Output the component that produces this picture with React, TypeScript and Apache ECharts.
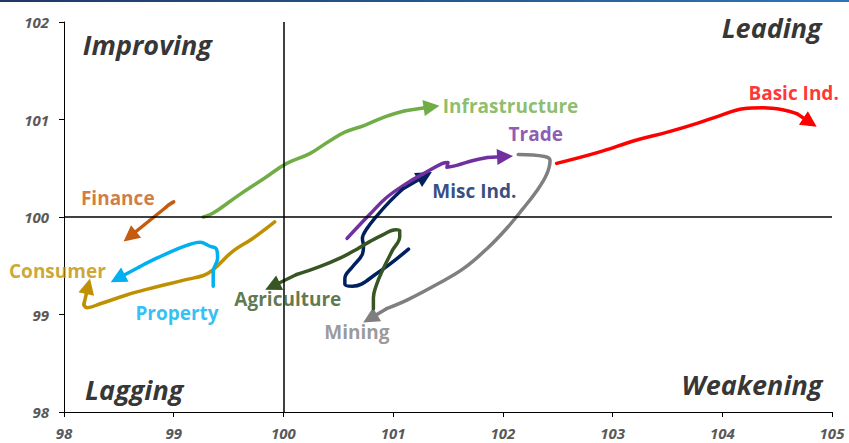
import React, { useEffect, useRef } from "react";
import * as echarts from "echarts";

// Axis ranges / ticks
const xRange = [98, 105];
const yRange = [98, 102];
const tickStep = 1;

// Sector paths ([RS-Ratio, RS-Momentum]); last point is the arrow tip
const infrastructure = [
  [99.27, 100.0], [99.36, 100.04], [99.6, 100.23], [99.83, 100.4], [100.03, 100.55],
  [100.24, 100.65], [100.42, 100.78], [100.56, 100.87], [100.74, 100.94],
  [100.93, 101.03], [101.11, 101.09], [101.35, 101.13],
];
const basicInd = [
  [102.49, 100.55], [102.86, 100.66], [103.22, 100.79], [103.5, 100.87], [103.77, 100.96],
  [103.98, 101.04], [104.19, 101.11], [104.37, 101.12], [104.55, 101.1], [104.68, 101.06],
  [104.8, 100.97],
];
const trade = [
  [100.58, 99.78], [100.67, 99.89], [100.79, 100.03], [100.94, 100.2], [101.13, 100.35],
  [101.27, 100.44], [101.45, 100.55], [101.5, 100.56], [101.49, 100.51], [101.58, 100.53],
  [101.73, 100.58], [101.86, 100.61], [102.02, 100.62],
];
const miscInd = [
  [101.14, 99.67], [100.85, 99.42], [100.63, 99.29], [100.56, 99.31], [100.56, 99.37],
  [100.63, 99.49], [100.72, 99.62], [100.73, 99.7], [100.72, 99.78], [100.76, 99.88],
  [100.85, 100.01], [100.97, 100.16], [101.09, 100.29], [101.29, 100.42],
];
const agriculture = [
  [100.82, 99.06], [100.82, 99.17], [100.85, 99.31], [100.91, 99.47], [100.99, 99.65],
  [101.06, 99.8], [101.06, 99.86], [101.02, 99.87], [100.91, 99.82], [100.79, 99.75],
  [100.67, 99.67], [100.52, 99.58], [100.33, 99.49], [100.12, 99.41], [99.9, 99.29],
];
const mining = [
  [102.14, 100.64], [102.38, 100.62], [102.43, 100.58], [102.4, 100.44], [102.31, 100.27],
  [102.18, 100.08], [102.04, 99.89], [101.86, 99.68], [101.64, 99.47], [101.4, 99.31],
  [101.13, 99.15], [100.94, 99.06], [100.79, 98.96],
];
const finance = [
  [99.0, 100.155], [98.95, 100.12], [98.93, 100.1], [98.6, 99.8],
];
const consumer = [
  [99.92, 99.95], [99.72, 99.78], [99.54, 99.65], [99.36, 99.46], [99.27, 99.4],
  [99.12, 99.36], [98.94, 99.31], [98.76, 99.26], [98.57, 99.2], [98.33, 99.11],
  [98.21, 99.07], [98.18, 99.1], [98.22, 99.29],
];
const property = [
  [99.36, 99.29], [99.36, 99.44], [99.4, 99.58], [99.39, 99.67], [99.33, 99.7],
  [99.24, 99.74], [99.15, 99.72], [99.03, 99.67], [98.85, 99.58], [98.69, 99.49],
  [98.49, 99.37],
];

// Label anchors (data units)
const sectorLabels = [
  { name: "Infrastructure", at: [102.07, 101.14] },
  { name: "Trade", at: [102.3, 100.85] },
  { name: "Misc Ind.", at: [101.74, 100.27] },
  { name: "Basic Ind.", at: [104.65, 101.27] },
  { name: "Finance", at: [98.49, 100.2] },
  { name: "Consumer", at: [97.94, 99.45] },
  { name: "Property", at: [99.03, 99.02] },
  { name: "Agriculture", at: [100.04, 99.16] },
  { name: "Mining", at: [100.67, 98.82] },
];
const quadrantLabels = [
  { name: "Improving", at: [98.76, 101.77] },
  { name: "Leading", at: [104.45, 101.94] },
  { name: "Lagging", at: [98.64, 98.23] },
  { name: "Weakening", at: [104.27, 98.28] },
];

const colors: Record<string, string> = {
  Infrastructure: "#70AD47",
  Trade: "#7030A0",
  "Misc Ind.": "#002060",
  "Basic Ind.": "#FF0000",
  Finance: "#C55A11",
  Consumer: "#BF9000",
  Property: "#00B0F0",
  Agriculture: "#375623",
  Mining: "#7F7F7F",
};

const paths: [string, number[][]][] = [
  ["Infrastructure", infrastructure],
  ["Basic Ind.", basicInd],
  ["Trade", trade],
  ["Misc Ind.", miscInd],
  ["Agriculture", agriculture],
  ["Mining", mining],
  ["Finance", finance],
  ["Consumer", consumer],
  ["Property", property],
];

const FONT = "'Open Sans', sans-serif";

export default function App() {
  const ref = useRef<HTMLDivElement>(null);
  useEffect(() => {
    if (!ref.current) return;
    const chart = echarts.init(ref.current, undefined, { renderer: "svg" });
    const series: any[] = [];
    series.push({
      type: "line",
      data: [],
      z: 1,
      silent: true,
      markLine: {
        silent: true,
        symbol: ["none", "none"],
        label: { show: false },
        lineStyle: { color: "#000", width: 1.5, type: "solid" },
        data: [
          [{ coord: [100, yRange[0]] }, { coord: [100, yRange[1]] }],
          [{ coord: [xRange[0], 100] }, { coord: [xRange[1], 100] }],
        ],
      },
    });
    paths.forEach(([name, pts]) => {
      const c = colors[name];
      const body = pts.slice(0, pts.length - 1);
      series.push({
        type: "line",
        name,
        data: body,
        smooth: 0.4,
        symbol: "none",
        z: 3,
        silent: true,
        lineStyle: { color: c, width: 3.5, cap: "round", join: "round" },
      });
      series.push({
        type: "lines",
        coordinateSystem: "cartesian2d",
        z: 3,
        silent: true,
        symbol: ["none", "triangle"],
        symbolSize: 16,
        lineStyle: { color: c, width: 3.5, opacity: 1, curveness: 0 },
        itemStyle: { color: c },
        data: [{ coords: [pts[pts.length - 2], pts[pts.length - 1]] }],
      });
    });
    series.push({
      type: "scatter",
      symbolSize: 0,
      clip: false,
      silent: true,
      z: 5,
      data: sectorLabels.map((l) => ({
        name: l.name,
        value: l.at,
        label: { color: colors[l.name] },
      })),
      label: {
        show: true,
        position: "inside",
        formatter: "{b}",
        fontFamily: FONT,
        fontWeight: "bold",
        fontSize: 19,
      },
    });
    series.push({
      type: "scatter",
      symbolSize: 0,
      clip: false,
      silent: true,
      z: 5,
      data: quadrantLabels.map((l) => ({ name: l.name, value: l.at })),
      label: {
        show: true,
        position: "inside",
        formatter: "{b}",
        color: "#000",
        fontFamily: FONT,
        fontWeight: "bold",
        fontStyle: "italic",
        fontSize: 27,
      },
    });
    const axisCommon = {
      type: "value",
      interval: tickStep,
      splitLine: { show: false },
      axisLine: { show: true, onZero: false, lineStyle: { color: "#000", width: 1 } },
      axisTick: { show: true, length: 5, lineStyle: { color: "#000" } },
      axisLabel: {
        color: "#595959",
        fontFamily: FONT,
        fontWeight: "bold",
        fontStyle: "italic",
        fontSize: 15,
        lineHeight: 15,
      },
    };
    chart.setOption({
      animation: false,
      backgroundColor: "#fff",
      grid: { left: 64, right: 17, top: 22, bottom: 31, containLabel: false },
      xAxis: { ...axisCommon, min: xRange[0], max: xRange[1], axisLabel: { ...axisCommon.axisLabel, margin: 13 } },
      yAxis: { ...axisCommon, min: yRange[0], max: yRange[1], axisLabel: { ...axisCommon.axisLabel, margin: 15 } },
      graphic: [
        {
          type: "rect",
          left: 0,
          top: 0,
          shape: { width: 849, height: 2 },
          style: {
            fill: new echarts.graphic.LinearGradient(0, 0, 1, 0, [
              { offset: 0, color: "#1F3864" },
              { offset: 1, color: "#2E75B6" },
            ]),
          },
        },
      ],
      series,
    });
    return () => chart.dispose();
  }, []);
  return (
    <div
      ref={ref}
      style={{ position: "fixed", left: 0, top: 0, width: 849, height: 443 }}
    />
  );
}
